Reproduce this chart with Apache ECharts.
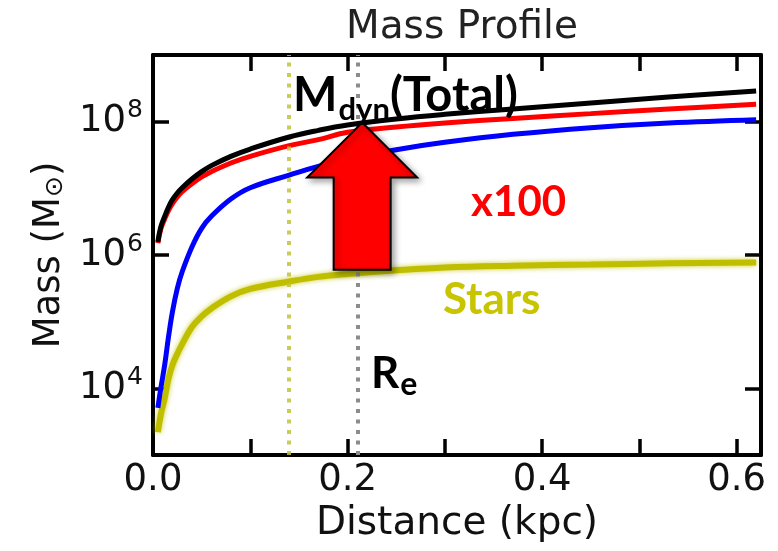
<!DOCTYPE html>
<html>
<head>
<meta charset="utf-8">
<title>Mass Profile</title>
<script src="https://cdn.jsdelivr.net/npm/echarts@6/dist/echarts.min.js"></script>
<style>
  html, body { margin: 0; padding: 0; background: #ffffff; }
  #chart { width: 778px; height: 551px; }
</style>
</head>
<body>
<div id="chart"></div>
<script>
// Enclosed mass versus galactocentric distance (solar masses, kpc)
const radiusKpc  = [0.005, 0.008, 0.012, 0.016, 0.020, 0.025, 0.030, 0.040, 0.050, 0.060, 0.080,
                    0.100, 0.140, 0.170, 0.200, 0.250, 0.300, 0.370, 0.450, 0.530, 0.620];
const totalMass  = [1.58e6, 2.63e6, 3.80e6, 5.25e6, 6.76e6, 8.51e6, 1.02e7, 1.38e7, 1.78e7, 2.19e7, 3.02e7,
                    3.89e7, 5.89e7, 7.41e7, 8.91e7, 1.10e8, 1.29e8, 1.55e8, 1.91e8, 2.34e8, 2.88e8];
const redMass    = [1.51e6, 2.45e6, 3.47e6, 4.68e6, 5.89e6, 7.41e6, 8.91e6, 1.17e7, 1.48e7, 1.78e7, 2.40e7,
                    3.02e7, 4.37e7, 5.37e7, 6.92e7, 8.32e7, 9.55e7, 1.12e8, 1.32e8, 1.55e8, 1.82e8];
const blueMass   = [5.1e3, 1.0e4, 2.24e4, 6.0e4, 1.41e5, 3.16e5, 5.6e5, 1.32e6, 2.51e6, 3.8e6, 6.9e6,
                    1.02e7, 1.58e7, 2.14e7, 2.75e7, 3.80e7, 4.90e7, 6.46e7, 8.13e7, 9.55e7, 1.07e8];
const starsMass  = [2.2e3, 4.0e3, 7.1e3, 1.41e4, 2.24e4, 3.3e4, 4.6e4, 8.3e4, 1.2e5, 1.58e5, 2.4e5,
                    3.1e5, 4.0e5, 4.7e5, 5.2e5, 5.9e5, 6.5e5, 6.9e5, 7.2e5, 7.5e5, 7.7e5];

// Characteristic radii (kpc)
const starsHalfRadius = 0.138;
const effectiveRadius = 0.215;

// Mass arrow at the effective radius: from stellar mass up to dynamical mass
const arrowFromMass = 6.0e5;
const arrowToMass   = 9.7e7;

// Axis ticks and labels
const xTickValues  = [0, 0.1, 0.2, 0.3, 0.4, 0.5, 0.6];
const xLabelValues = [0, 0.2, 0.4, 0.6];
const yTickValues  = [1e4, 1e6, 1e8];

const pairs = ys => radiusKpc.map((r, i) => [r, ys[i]]);

const AXIS_FONT = 'DejaVu Sans';
const NOTE_FONT = 'Lato';
const frame = { show: true, onZero: false, lineStyle: { color: '#000', width: 4 } };
const ticks = values => ({ show: true, inside: true, length: 16, customValues: values,
                           lineStyle: { color: '#000', width: 3.5 } });

const chart = echarts.init(document.getElementById('chart'), null, { renderer: 'canvas' });

const curve = (name, data, color, width, z, extra) => Object.assign({
  name, type: 'line', data: pairs(data), showSymbol: false, symbol: 'none',
  smooth: 0.4, z, silent: true,
  lineStyle: { color, width }
}, extra || {});

chart.setOption({
  animation: false,
  backgroundColor: '#ffffff',
  title: {
    text: 'Mass Profile', left: 457, top: 3, textAlign: 'center',
    textStyle: { fontFamily: AXIS_FONT, fontSize: 39, fontWeight: 'normal', color: '#222' }
  },
  grid: { left: 153, right: 17, top: 55, bottom: 96 },
  xAxis: [{
    type: 'value', position: 'bottom', min: 0, max: 0.625,
    axisLine: frame, axisTick: ticks(xTickValues), splitLine: { show: false },
    axisLabel: {
      customValues: xLabelValues, formatter: v => v.toFixed(1), margin: 7,
      fontFamily: AXIS_FONT, fontSize: 37, color: '#111'
    },
    name: 'Distance (kpc)', nameLocation: 'middle', nameGap: 41,
    nameTextStyle: { fontFamily: AXIS_FONT, fontSize: 39, color: '#111' }
  }, {
    type: 'value', position: 'top', min: 0, max: 0.625,
    axisLine: frame, axisTick: ticks(xTickValues), axisLabel: { show: false }, splitLine: { show: false }
  }],
  yAxis: [{
    type: 'log', logBase: 10, position: 'left', min: 1e3, max: 1e9,
    axisLine: frame, axisTick: ticks(yTickValues), splitLine: { show: false }, minorTick: { show: false },
    axisLabel: {
      customValues: yTickValues, margin: 10,
      formatter: v => '{b|10}{s|' + Math.round(Math.log10(v)) + '}',
      rich: {
        b: { fontFamily: AXIS_FONT, fontSize: 37, color: '#111' },
        s: { fontFamily: AXIS_FONT, fontSize: 25, color: '#111', padding: [0, 0, 22, 1] }
      }
    },
    name: '{a|Mass (M}{s|⊙}{a|)}', nameLocation: 'middle', nameGap: 84,
    nameTextStyle: {
      rich: {
        a: { fontFamily: AXIS_FONT, fontSize: 37, color: '#111' },
        s: { fontFamily: AXIS_FONT, fontSize: 25, color: '#111', padding: [12, 0, 0, 0] }
      }
    }
  }, {
    type: 'log', logBase: 10, position: 'right', min: 1e3, max: 1e9,
    axisLine: frame, axisTick: ticks(yTickValues), axisLabel: { show: false },
    splitLine: { show: false }, minorTick: { show: false }
  }],
  series: [
    {
      name: 'radii', type: 'line', data: [], z: 1, silent: true,
      markLine: {
        silent: true, symbol: ['none', 'none'], label: { show: false },
        data: [
          { xAxis: starsHalfRadius, lineStyle: { color: '#bfc33a', width: 4, type: [4, 6.5], opacity: 0.85 } },
          { xAxis: effectiveRadius, lineStyle: { color: '#8c8c8c', width: 4, type: [4, 6.5] } }
        ]
      }
    },
    curve('Stars', starsMass, '#bfbf00', 6, 2, {
      lineStyle: { color: '#bfbf00', width: 6, shadowBlur: 5, shadowColor: 'rgba(191,191,0,0.8)' }
    }),
    curve('blue', blueMass, '#0000ff', 5, 3),
    curve('x100', redMass, '#ff0000', 5, 4),
    curve('Total', totalMass, '#000000', 5, 5),
    {
      name: 'arrow', type: 'custom', z: 6, silent: true,
      data: [[effectiveRadius, arrowFromMass, arrowToMass]],
      renderItem: (params, api) => {
        const tip = api.coord([api.value(0), api.value(2)]);
        const base = api.coord([api.value(0), api.value(1)]);
        const headW = 55, headH = 55, shaftW = 28.5;
        const cx = tip[0], ty = tip[1], hy = ty + headH, by = base[1];
        return {
          type: 'polygon',
          shape: { points: [[cx, ty], [cx + headW, hy], [cx + shaftW, hy], [cx + shaftW, by],
                            [cx - shaftW, by], [cx - shaftW, hy], [cx - headW, hy]] },
          style: { fill: '#ff0000', stroke: '#000000', lineWidth: 2,
                   shadowBlur: 6, shadowColor: 'rgba(0,0,0,0.35)', shadowOffsetX: 3, shadowOffsetY: 3 }
        };
      }
    }
  ]
});

// Annotation texts, anchored in data space
const notes = [
  { at: [0.144, 2.4e8], text: '{m|M}{d|dyn}{m|(Total)}', rich: {
      m: { fontFamily: NOTE_FONT, fontWeight: 'bold', fontSize: 47, fill: '#000' },
      d: { fontFamily: NOTE_FONT, fontWeight: 'bold', fontSize: 31, fill: '#000', padding: [28, 0, 0, 1] } } },
  { at: [0.327, 6.1e6], text: '{r|x100}', rich: {
      r: { fontFamily: NOTE_FONT, fontWeight: 'bold', fontSize: 42, fill: '#ff0000' } } },
  { at: [0.298, 2.14e5], text: '{y|Stars}', rich: {
      y: { fontFamily: NOTE_FONT, fontWeight: 'bold', fontSize: 44, fill: '#c8c400' } } },
  { at: [0.224, 1.66e4], text: '{m|R}{e|e}', rich: {
      m: { fontFamily: NOTE_FONT, fontWeight: 'bold', fontSize: 44, fill: '#000' },
      e: { fontFamily: NOTE_FONT, fontWeight: 'bold', fontSize: 32, fill: '#000', padding: [22, 0, 0, 1] } } }
];

chart.setOption({
  graphic: notes.map(n => {
    const p = chart.convertToPixel({ xAxisIndex: 0, yAxisIndex: 0 }, n.at);
    return {
      type: 'text', x: p[0], y: p[1], z: 100, silent: true,
      style: { text: n.text, rich: n.rich, align: 'left', verticalAlign: 'middle' }
    };
  })
});
</script>
</body>
</html>
